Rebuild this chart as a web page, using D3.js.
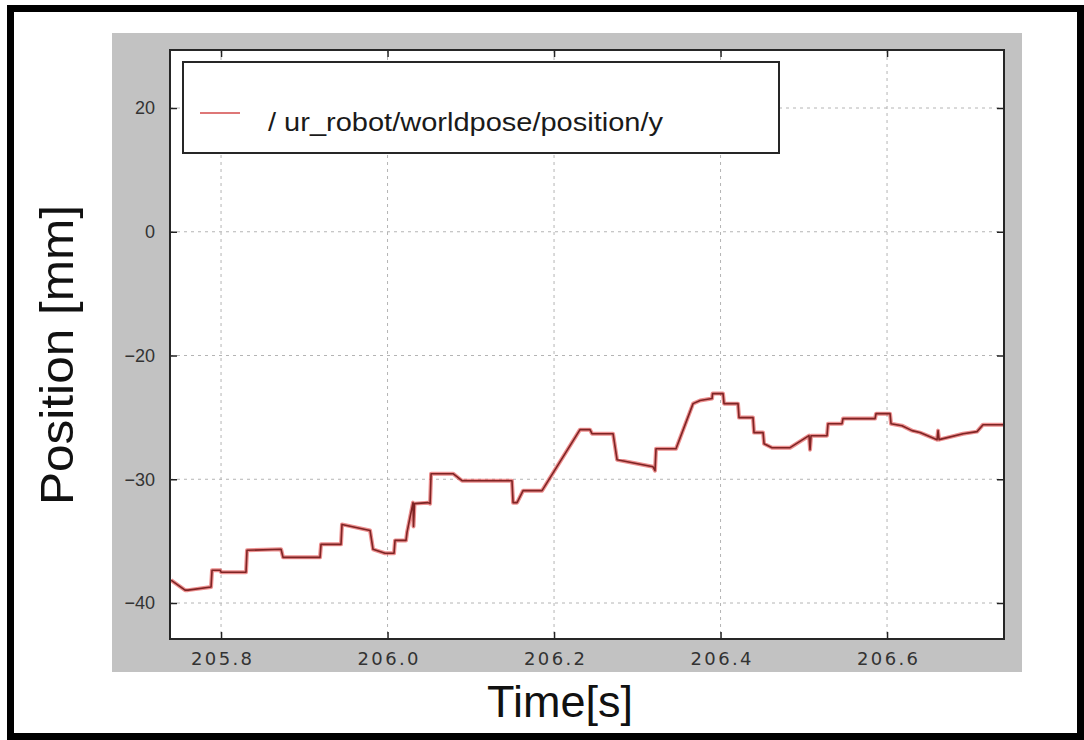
<!DOCTYPE html>
<html>
<head>
<meta charset="utf-8">
<script src="https://cdn.jsdelivr.net/npm/d3@7"></script>
<style>
  body { margin: 0; background: #fff; }
  svg { display: block; }
</style>
</head>
<body>
<svg id="chart" width="1084" height="740"></svg>
<script>
// Recorded end-effector y position over time (seconds, millimetres)
const times = [
  205.7399, 205.7568, 205.7604, 205.7880, 205.7892, 205.7988, 205.8000, 205.8300,
  205.8312, 205.8721, 205.8745, 205.9189, 205.9201, 205.9441, 205.9453, 205.9790,
  205.9826, 205.9970, 206.0078, 206.0090, 206.0222, 206.0234, 206.0306, 206.0312,
  206.0324, 206.0486, 206.0511, 206.0523, 206.0787, 206.0895, 206.1495, 206.1508,
  206.1556, 206.1628, 206.1856, 206.2312, 206.2432, 206.2456, 206.2709, 206.2757,
  206.3189, 206.3213, 206.3225, 206.3465, 206.3670, 206.3754, 206.3898, 206.3904,
  206.4030, 206.4042, 206.4210, 206.4222, 206.4390, 206.4402, 206.4511, 206.4523,
  206.4619, 206.4835, 206.5063, 206.5075, 206.5087, 206.5279, 206.5291, 206.5459,
  206.5471, 206.5856, 206.5868, 206.6036, 206.6048, 206.6180, 206.6300, 206.6396,
  206.6601, 206.6613, 206.6625, 206.6913, 206.7081, 206.7153, 206.7405
];
const positions = [
  -38.15, -38.96, -38.96, -38.71, -37.35, -37.35, -37.51, -37.51,
  -35.74, -35.66, -36.31, -36.31, -35.26, -35.26, -33.65, -34.14,
  -35.66, -35.98, -35.98, -34.94, -34.94, -34.30, -31.89, -33.82,
  -31.97, -31.89, -31.97, -29.55, -29.55, -30.12, -30.12, -31.89,
  -31.89, -30.92, -30.92, -25.99, -25.99, -26.32, -26.32, -28.42,
  -28.99, -29.31, -27.53, -27.53, -23.89, -23.64, -23.48, -23.08,
  -23.08, -23.89, -23.89, -25.02, -25.02, -26.23, -26.23, -27.13,
  -27.45, -27.45, -26.48, -27.61, -26.48, -26.48, -25.51, -25.51,
  -25.10, -25.10, -24.70, -24.70, -25.51, -25.67, -26.07, -26.23,
  -26.80, -26.07, -26.80, -26.32, -26.15, -25.59, -25.59
];

const xTicks = [205.8, 206.0, 206.2, 206.4, 206.6];
const yTicks = [-40, -30, -20, 0, 20];
const xDomain = [205.7387, 206.7405];
const yEdges = [-42.9, 29.4];

const seriesName = "/ ur_robot/worldpose/position/y";
const xTitle = "Time[s]";
const yTitle = "Position [mm]";

const svg = d3.select("#chart");

// page frame and grey figure panel
svg.append("rect")
  .attr("x", 10.5).attr("y", 8.5).attr("width", 1070).attr("height", 728)
  .attr("fill", "#fff").attr("stroke", "#000").attr("stroke-width", 7);
svg.append("rect")
  .attr("x", 112).attr("y", 33).attr("width", 910).attr("height", 639)
  .attr("fill", "#c2c2c2");

const plot = { left: 170, top: 50, right: 1004, bottom: 639 };

const x = d3.scaleLinear().domain(xDomain).range([plot.left, plot.right]);

// tick rows are evenly spaced on this axis, so the scale is piecewise linear
const firstRow = 603, lastRow = 108;
const rowStep = (firstRow - lastRow) / (yTicks.length - 1);
const tickRows = yTicks.map((_, i) => firstRow - i * rowStep);
const y = d3.scaleLinear()
  .domain([yEdges[0], ...yTicks, yEdges[1]])
  .range([plot.bottom, ...tickRows, plot.top]);

// axes background
svg.append("rect")
  .attr("x", plot.left).attr("y", plot.top)
  .attr("width", plot.right - plot.left).attr("height", plot.bottom - plot.top)
  .attr("fill", "#fff");

// dotted grid
const grid = svg.append("g").attr("stroke", "#b4b4b4").attr("stroke-width", 1)
  .attr("stroke-dasharray", "3,4");
grid.selectAll("line.v").data(xTicks).join("line")
  .attr("x1", d => x(d)).attr("x2", d => x(d))
  .attr("y1", plot.top).attr("y2", plot.bottom);
grid.selectAll("line.h").data(yTicks).join("line")
  .attr("x1", plot.left).attr("x2", plot.right)
  .attr("y1", d => y(d)).attr("y2", d => y(d));

// data line: soft red halo with a dark red core
const line = d3.line().x(d => x(d[0])).y(d => y(d[1]));
const pts = times.map((t, i) => [t, positions[i]]);
svg.append("path").datum(pts).attr("d", line)
  .attr("fill", "none").attr("stroke", "#e04545").attr("stroke-width", 4)
  .attr("stroke-opacity", 0.6).attr("stroke-linejoin", "round");
svg.append("path").datum(pts).attr("d", line)
  .attr("fill", "none").attr("stroke", "#7e2424").attr("stroke-width", 1.6)
  .attr("stroke-linejoin", "round");

// axes with inward ticks on all four sides
const tickLen = 7;
const fmt = d3.format(".1f");
const gx = svg.append("g").attr("transform", `translate(0,${plot.bottom})`)
  .call(d3.axisBottom(x).tickValues(xTicks).tickFormat(fmt).tickSize(-tickLen).tickPadding(13));
const gxTop = svg.append("g").attr("transform", `translate(0,${plot.top})`)
  .call(d3.axisTop(x).tickValues(xTicks).tickFormat("").tickSize(-tickLen));
const gy = svg.append("g").attr("transform", `translate(${plot.left},0)`)
  .call(d3.axisLeft(y).tickValues(yTicks).tickSize(-tickLen).tickPadding(15));
const gyRight = svg.append("g").attr("transform", `translate(${plot.right},0)`)
  .call(d3.axisRight(y).tickValues(yTicks).tickFormat("").tickSize(-tickLen));

[gx, gxTop, gy, gyRight].forEach(g => {
  g.select(".domain").remove();
  g.selectAll(".tick line").attr("stroke", "#222").attr("stroke-width", 1.5);
});
gx.selectAll(".tick text")
  .attr("font-family", "DejaVu Sans").attr("font-size", 18).attr("fill", "#333")
  .attr("textLength", 61).attr("lengthAdjust", "spacing");
gy.selectAll(".tick text")
  .attr("font-family", "Liberation Sans").attr("font-size", 18).attr("fill", "#333");

// axes frame
svg.append("rect")
  .attr("x", plot.left).attr("y", plot.top)
  .attr("width", plot.right - plot.left).attr("height", plot.bottom - plot.top)
  .attr("fill", "none").attr("stroke", "#262626").attr("stroke-width", 2);

// legend
const legend = svg.append("g");
legend.append("rect")
  .attr("x", 183).attr("y", 62).attr("width", 596).attr("height", 91)
  .attr("fill", "#fff").attr("stroke", "#262626").attr("stroke-width", 2);
legend.append("line")
  .attr("x1", 200).attr("x2", 240).attr("y1", 113).attr("y2", 113)
  .attr("stroke", "#d65555").attr("stroke-width", 2).attr("stroke-opacity", 0.8);
legend.append("text")
  .attr("x", 268).attr("y", 131)
  .attr("font-family", "Liberation Sans").attr("font-size", 26).attr("fill", "#1a1a1a")
  .attr("textLength", 395).attr("lengthAdjust", "spacingAndGlyphs")
  .text(seriesName);

// axis titles
svg.append("text")
  .attr("x", 560).attr("y", 717).attr("text-anchor", "middle")
  .attr("font-family", "Liberation Sans").attr("font-size", 45).attr("fill", "#111")
  .text(xTitle);
svg.append("text")
  .attr("transform", "translate(73,355) rotate(-90)").attr("text-anchor", "middle")
  .attr("font-family", "Liberation Sans").attr("font-size", 47).attr("fill", "#111")
  .attr("textLength", 300).attr("lengthAdjust", "spacingAndGlyphs")
  .text(yTitle);
</script>
</body>
</html>
